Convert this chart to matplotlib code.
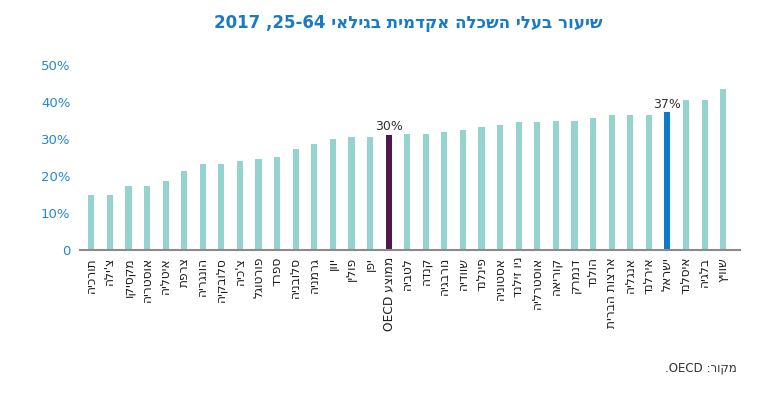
import matplotlib
matplotlib.use("Agg")
import matplotlib.pyplot as plt

plt.rcParams['font.family'] = ['DejaVu Sans']

title = "שיעור בעלי השכלה אקדמית בגילאי 25-64, 2017"
source = "מקור: OECD."

countries = ["תורכיה", "צ'ילה", "מקסיקו", "אוסטריה", "איטליה", "צרפת", "הונגריה",
             "סלובקיה", "צ'כיה", "פורטוגל", "ספרד", "סלובניה", "גרמניה", "יוון",
             "פולין", "יפן", "ממוצע OECD", "לטביה", "קנדה", "נורבגיה", "שוודיה",
             "פינלנד", "אסטוניה", "ניו זילנד", "אוסטרליה", "קוריאה", "דנמרק",
             "הולנד", "ארצות הברית", "אנגליה", "אירלנד", "ישראל", "איסלנד",
             "בלגיה", "שוויץ"]
values = [14.8, 14.8, 17.2, 17.2, 18.6, 21.3, 23.2, 23.2, 24.0, 24.6, 25.2,
          27.2, 28.6, 29.9, 30.5, 30.5, 31.2, 31.3, 31.5, 31.8, 32.6, 33.2,
          33.7, 34.5, 34.5, 35.0, 35.0, 35.8, 36.4, 36.4, 36.4, 37.2, 40.6,
          40.6, 43.6]
highlight = {"ממוצע OECD": ("#4f1a4b", "30%"), "ישראל": ("#0a7dc8", "37%")}
yticks = [0, 10, 20, 30, 40, 50]
ytick_labels = ["0", "10%", "20%", "30%", "40%", "50%"]


def is_heb(w):
    return any('\u0590' <= c <= '\u05ff' for c in w)


def visual(s):
    # crude bidi: right-to-left word order, hebrew words reversed
    out = []
    for w in reversed(s.split(' ')):
        if is_heb(w):
            out.append(w[::-1])
        else:
            i = len(w)
            while i > 0 and w[i - 1] in '.,:':
                i -= 1
            out.append(w[i:] + w[:i])
    return ' '.join(out)


fig = plt.figure(figsize=(7.78, 3.95), dpi=100)
ax = fig.add_axes([0.103, 0.367, 0.848, 0.468])

x = list(range(len(countries)))
colors = [highlight[c][0] if c in highlight else "#95d3cf" for c in countries]
ax.bar(x, values, width=0.33, color=colors, zorder=2)

for i, c in enumerate(countries):
    if c in highlight:
        ax.text(i, values[i] + 0.5, highlight[c][1], ha='center', va='bottom',
                fontsize=9, color="#333333")

ax.set_xlim(-0.6, 34.9)
ax.set_ylim(0, 50)
ax.set_yticks(yticks)
ax.set_yticklabels(ytick_labels, color="#1f8ad6", fontsize=9.5)
ax.set_xticks(x)
ax.set_xticklabels([visual(c) for c in countries], rotation=90, fontsize=8.8,
                   color="#1e1e1e", va='top', ha='center')
ax.tick_params(axis='both', length=0)
ax.tick_params(axis='y', pad=7)
ax.tick_params(axis='x', pad=5)

for s in ['top', 'right', 'left']:
    ax.spines[s].set_visible(False)
ax.spines['bottom'].set_color("#8a8a8a")
ax.spines['bottom'].set_linewidth(1.5)

fig.text(0.525, 0.942, visual(title), ha='center', va='center', fontsize=12,
         fontweight='bold', color="#1a7ac8")
fig.text(0.947, 0.068, visual(source), ha='right', va='center', fontsize=8.5,
         color="#333333")

fig.savefig("out.png", dpi=100)
